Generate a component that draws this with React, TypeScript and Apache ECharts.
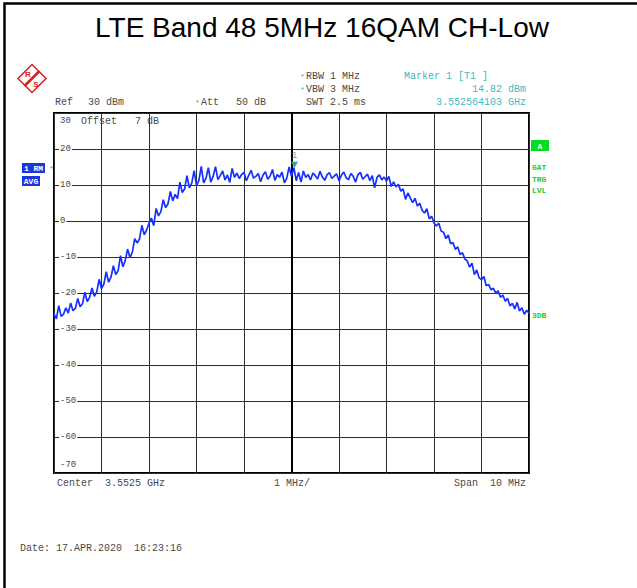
import React, { useEffect, useRef } from "react";
import * as echarts from "echarts";

const TITLE = "LTE Band 48 5MHz 16QAM CH-Low";
const SPAN_MHZ = 10;
const SWEEP_STEP_MHZ = 0.05;
const Y_MIN = -70;
const Y_MAX = 30;
const Y_STEP = 10;
const yTickLabels = ["30", "20", "10", "0", "-10", "-20", "-30", "-40", "-50", "-60", "-70"];

// trace level (dBm) per sweep point, from -5 MHz to +5 MHz around 3.5525 GHz
const traceDbm = [
  -25.8, -27.2, -23.5, -26.5, -25.9, -24.1, -25.6, -22.8, -24.9, -24.3,
  -21.5, -23.8, -23.0, -19.8, -22.4, -21.2, -18.6, -20.9, -19.7, -16.2,
  -18.8, -17.5, -14.1, -17.0, -15.6, -12.4, -14.9, -13.8, -9.6, -12.7,
  -11.0, -7.8, -10.2, -8.6, -4.9, -6.1, -5.0, -1.2, -3.8, -2.5,
  -0.6, 0.8, -1.3, 3.5, 1.4, 2.6, 5.9, 3.7, 4.8, 8.2,
  5.6, 7.4, 6.2, 10.8, 7.9, 8.9, 12.6, 9.2, 10.5, 14.0,
  9.9, 11.2, 15.2, 10.6, 11.9, 14.8, 10.8, 12.4, 15.1, 11.5,
  12.6, 13.9, 11.4, 12.8, 10.7, 14.6, 12.1, 13.3, 11.8, 12.9,
  13.5, 11.2, 12.7, 14.1, 11.9, 12.4, 13.2, 10.9, 12.8, 13.7,
  11.6, 12.5, 14.3, 11.3, 12.9, 12.2, 13.6, 10.6, 11.9, 15.0,
  12.4, 14.8, 11.2, 13.5, 10.8, 13.9, 12.1, 12.9, 11.4, 13.3,
  12.6, 11.7, 13.8, 12.2, 11.3, 12.9, 13.4, 11.8, 12.5, 13.1,
  11.1, 12.7, 13.6, 12.0, 11.5, 13.2, 12.4, 10.8, 12.9, 13.5,
  11.6, 12.3, 13.0, 11.2, 12.6, 9.2, 12.1, 12.8, 11.4, 12.2,
  11.1, 12.4, 9.6, 10.9, 9.5, 10.2, 8.3, 8.9, 6.0, 7.8,
  6.4, 5.1, 6.3, 4.2, 4.9, 3.0, 2.2, 3.4, 0.6, 1.3,
  -0.5, -1.4, -0.6, -2.8, -3.1, -4.9, -3.9, -6.3, -6.0, -7.9,
  -7.2, -9.3, -8.8, -10.6, -11.1, -12.8, -11.7, -14.9, -13.6, -15.8,
  -16.3, -15.4, -18.0, -17.6, -19.1, -18.7, -20.0, -19.4, -21.2, -20.6,
  -22.3, -21.5, -23.6, -22.9, -24.4, -22.6, -25.0, -24.1, -25.9, -24.8,
  -25.6,
];

const markerOffsetMHz = 0.064103; // 3.552564103 GHz
const markerLevel = 14.82;

const headerLines = {
  rbw: "RBW 1 MHz",
  vbw: "VBW 3 MHz",
  swt: "SWT 2.5 ms",
  marker: "Marker 1 [T1 ]",
  markerLevel: "14.82 dBm",
  markerFreq: "3.552564103 GHz",
  ref: "Ref",
  refLevel: "30 dBm",
  att: "Att",
  attVal: "50 dB",
  offset: "Offset   7 dB",
  center: "Center  3.5525 GHz",
  div: "1 MHz/",
  span: "Span  10 MHz",
  date: "Date: 17.APR.2020  16:23:16",
};

const MONO = '"Liberation Mono", "DejaVu Sans Mono", monospace';
const GRAY = "#4a4a4a";
const TEAL = "#3cbcc4";
const GREEN = "#22cc22";

function txt(text: string, x: number, y: number, opts: any = {}) {
  return {
    type: "text",
    x,
    y,
    z: 100,
    style: {
      text,
      fill: opts.fill || GRAY,
      fontSize: opts.fontSize || 10,
      fontFamily: opts.fontFamily || MONO,
      fontWeight: opts.fontWeight || "normal",
      align: opts.align || "left",
      textAlign: opts.align || "left",
      verticalAlign: "middle",
      textVerticalAlign: "middle",
    },
  };
}

export default function App() {
  const ref = useRef<HTMLDivElement>(null);

  useEffect(() => {
    if (!ref.current) return;
    const chart = echarts.init(ref.current, null, { renderer: "svg" });
    const half = SPAN_MHZ / 2;
    const data = traceDbm.map((v, i) => [-half + i * SWEEP_STEP_MHZ, v]);

    const graphic: any[] = [
      // outer frame (left and top edges)
      {
        type: "polyline",
        shape: { points: [[4.5, 588], [4.5, 3.5], [637, 3.5]] },
        style: { fill: "none", stroke: "#000", lineWidth: 2.5 },
        z: 90,
      },
      // title
      {
        type: "text",
        x: 322,
        y: 27,
        z: 100,
        style: {
          text: TITLE,
          fill: "#000",
          fontSize: 28,
          fontFamily: '"Liberation Sans", Arial, sans-serif',
          align: "center",
          textAlign: "center",
          verticalAlign: "middle",
          textVerticalAlign: "middle",
        },
      },
      // R&S logo
      {
        type: "polygon",
        shape: { points: [[32, 64.5], [46, 78.5], [32, 92.5], [18, 78.5]] },
        style: { fill: "#fff", stroke: "#d42020", lineWidth: 1.5 },
        z: 100,
      },
      {
        type: "line",
        shape: { x1: 39.5, y1: 71, x2: 24.5, y2: 86 },
        style: { stroke: "#d42020", lineWidth: 2.5 },
        z: 100,
      },
      txt("R", 28, 74, { fill: "#d42020", fontSize: 8, fontWeight: "bold", align: "center", fontFamily: '"Liberation Sans", Arial' }),
      txt("S", 36, 84, { fill: "#d42020", fontSize: 8, fontWeight: "bold", align: "center", fontFamily: '"Liberation Sans", Arial' }),
      // header
      txt("*", 300, 76, { fill: GREEN, fontSize: 8 }),
      txt(headerLines.rbw, 306, 76),
      txt("*", 300, 89, { fill: GREEN, fontSize: 8 }),
      txt(headerLines.vbw, 306, 89),
      txt(headerLines.swt, 306, 102),
      txt(headerLines.marker, 404, 76, { fill: TEAL }),
      txt(headerLines.markerLevel, 526, 89, { fill: TEAL, align: "right" }),
      txt(headerLines.markerFreq, 526, 102, { fill: TEAL, align: "right" }),
      txt(headerLines.ref, 55, 102),
      txt(headerLines.refLevel, 88, 102),
      txt("*", 195, 102, { fill: GREEN, fontSize: 8 }),
      txt(headerLines.att, 201, 102),
      txt(headerLines.attVal, 236, 102),
      // in-plot texts
      txt(yTickLabels[0], 60, 121, { fontSize: 9 }),
      txt(yTickLabels[yTickLabels.length - 1], 60, 465, { fontSize: 9 }),
      txt(headerLines.offset, 81, 121),
      // bottom
      txt(headerLines.center, 57, 483),
      txt(headerLines.div, 292, 483, { align: "center" }),
      txt(headerLines.span, 526, 483, { align: "right" }),
      txt(headerLines.date, 20, 548),
      // left trace info boxes
      {
        type: "rect",
        shape: { x: 22, y: 163, width: 23, height: 10 },
        style: { fill: "#1a35e6" },
        z: 100,
      },
      txt("1 RM", 33.5, 168.5, { fill: "#fff", fontSize: 8, fontWeight: "bold", align: "center" }),
      txt("*", 49, 168, { fill: GREEN, fontSize: 8 }),
      {
        type: "rect",
        shape: { x: 22, y: 176, width: 18, height: 10 },
        style: { fill: "#1a35e6" },
        z: 100,
      },
      txt("AVG", 31, 181.5, { fill: "#fff", fontSize: 8, fontWeight: "bold", align: "center" }),
      // right side
      {
        type: "rect",
        shape: { x: 531, y: 140, width: 18, height: 11 },
        style: { fill: "#00dd22" },
        z: 100,
      },
      txt("A", 540, 146, { fill: "#fff", fontSize: 8, fontWeight: "bold", align: "center" }),
      txt("GAT", 532, 167, { fill: GREEN, fontSize: 8, fontWeight: "bold" }),
      txt("TRG", 532, 179, { fill: GREEN, fontSize: 8, fontWeight: "bold" }),
      txt("LVL", 532, 190, { fill: GREEN, fontSize: 8, fontWeight: "bold" }),
      txt("3DB", 532, 315, { fill: GREEN, fontSize: 8, fontWeight: "bold" }),
    ];

    chart.setOption({
      animation: false,
      backgroundColor: "#fff",
      grid: {
        left: 54,
        top: 113,
        width: 475,
        height: 360,
        show: true,
        borderColor: "#000",
        borderWidth: 2,
        backgroundColor: "#fff",
      },
      xAxis: {
        type: "value",
        min: -half,
        max: half,
        interval: 1,
        axisLine: { show: false },
        axisTick: { show: false },
        axisLabel: { show: false },
        splitLine: { show: true, lineStyle: { color: "#2e2e2e", width: 1 } },
      },
      yAxis: {
        type: "value",
        min: Y_MIN,
        max: Y_MAX,
        interval: Y_STEP,
        axisLine: { show: false },
        axisTick: { show: false },
        splitLine: { show: true, lineStyle: { color: "#2e2e2e", width: 1 } },
        axisLabel: {
          inside: true,
          margin: 5,
          showMinLabel: false,
          showMaxLabel: false,
          color: GRAY,
          fontSize: 9,
          fontFamily: MONO,
          backgroundColor: "#fff",
          padding: [0, 1, 0, 1],
          formatter: (v: number) => yTickLabels[Math.round((Y_MAX - v) / Y_STEP)] ?? String(v),
        },
        z: 5,
      },
      graphic,
      series: [
        {
          type: "line",
          data: [],
          z: 1,
          silent: true,
          markLine: {
            silent: true,
            symbol: ["none", "none"],
            label: { show: false },
            lineStyle: { color: "#000", width: 2, type: "solid" },
            data: [{ xAxis: 0 }],
          },
        },
        {
          type: "line",
          data,
          showSymbol: false,
          z: 10,
          lineStyle: { color: "#1530ff", width: 1.7 },
          markPoint: {
            symbol: "triangle",
            symbolRotate: 180,
            symbolSize: [7, 6],
            symbolOffset: [0, -3],
            itemStyle: { color: "#2aa8b0" },
            label: {
              show: true,
              position: "top",
              distance: 1,
              formatter: "1",
              color: TEAL,
              fontSize: 9,
              fontFamily: MONO,
            },
            data: [{ coord: [markerOffsetMHz, markerLevel] }],
          },
        },
      ],
    });
    return () => chart.dispose();
  }, []);

  return (
    <div
      ref={ref}
      style={{ position: "fixed", left: 0, top: 0, width: 637, height: 588 }}
    />
  );
}
